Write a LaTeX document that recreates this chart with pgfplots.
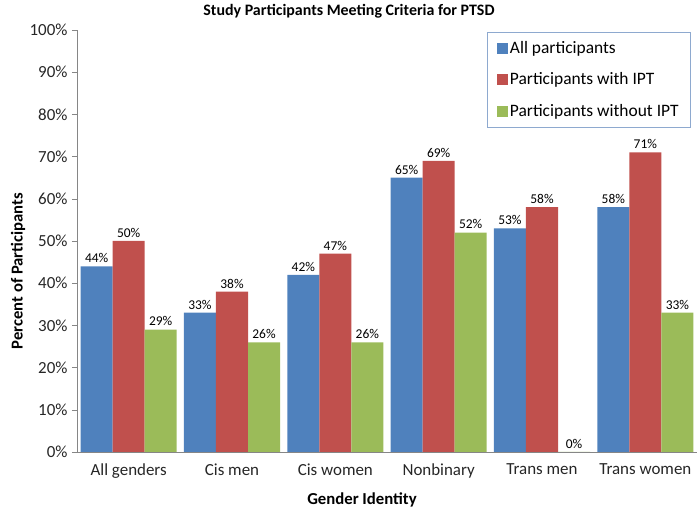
\documentclass[border=0pt]{standalone}
\usepackage{fontspec}
\setmainfont{Carlito}
\usepackage{pgfplots}
\pgfplotsset{compat=1.18}

\definecolor{xblue}{HTML}{4F81BD}
\definecolor{xred}{HTML}{C0504D}
\definecolor{xgreen}{HTML}{9BBB59}
\definecolor{axgray}{HTML}{868686}
\definecolor{legbd}{HTML}{8EA9CF}

\begin{document}
\begin{tikzpicture}[x=1bp,y=1bp]
\path[use as bounding box] (0,0) rectangle (700,510);
\begin{axis}[
    at={(77bp,58bp)}, anchor=south west,
    scale only axis,
    width=620bp, height=422bp,
    ybar=0pt,
    bar width=0.31,
    xmin=-0.5, xmax=5.5,
    ymin=0, ymax=100,
    xtick=data,
    xticklabels={All genders, Cis men, Cis women, Nonbinary, Trans men, Trans women},
    ytick={0,10,...,100},
    yticklabel={\pgfmathprintnumber{\tick}\%},
    /pgf/number format/assume math mode=true,
    ticklabel style={font=\fontsize{17}{20}\selectfont, text=black!85},
    xtick style={draw=none},
    ytick style={draw=axgray},
    tick align=outside,
    major tick length=5bp,
    axis x line*=bottom,
    axis y line*=left,
    axis line style={draw=axgray, -},
    x tick label style={yshift=-3bp},
    y tick label style={xshift=-1bp},
    nodes near coords={\pgfmathprintnumber{\pgfplotspointmeta}\%},
    nodes near coords style={font=\fontsize{13.5}{15}\selectfont, text=black, yshift=0bp},
    legend style={
        at={(0.990,0.995)}, anchor=north east,
        draw=legbd, fill=white,
        font=\fontsize{17.5}{20}\selectfont,
        row sep=14bp,
        inner xsep=10bp, inner ysep=7bp,
        cells={anchor=west},
    },
    legend image code/.code={
        \draw[#1, draw=none] (0bp,-5.5bp) rectangle (11bp,5.5bp);
    },
    clip=false,
]
\addplot[fill=xblue, draw=none] coordinates {
    (0,44) (1,33) (2,42) (3,65) (4,53) (5,58)
};
\addlegendentry{All participants}
\addplot[fill=xred, draw=none] coordinates {
    (0,50) (1,38) (2,47) (3,69) (4,58) (5,71)
};
\addlegendentry{Participants with IPT}
\addplot[fill=xgreen, draw=none] coordinates {
    (0,29) (1,26) (2,26) (3,52) (4,0) (5,33)
};
\addlegendentry{Participants without IPT}
\end{axis}
\node[font=\fontsize{16}{18}\selectfont\bfseries] at (349,499) {Study Participants Meeting Criteria for PTSD};
\node[font=\fontsize{16.7}{19}\selectfont\bfseries, rotate=90] at (18,239) {Percent of Participants};
\node[font=\fontsize{16.8}{19}\selectfont\bfseries] at (362,10) {Gender Identity};
\end{tikzpicture}
\end{document}
